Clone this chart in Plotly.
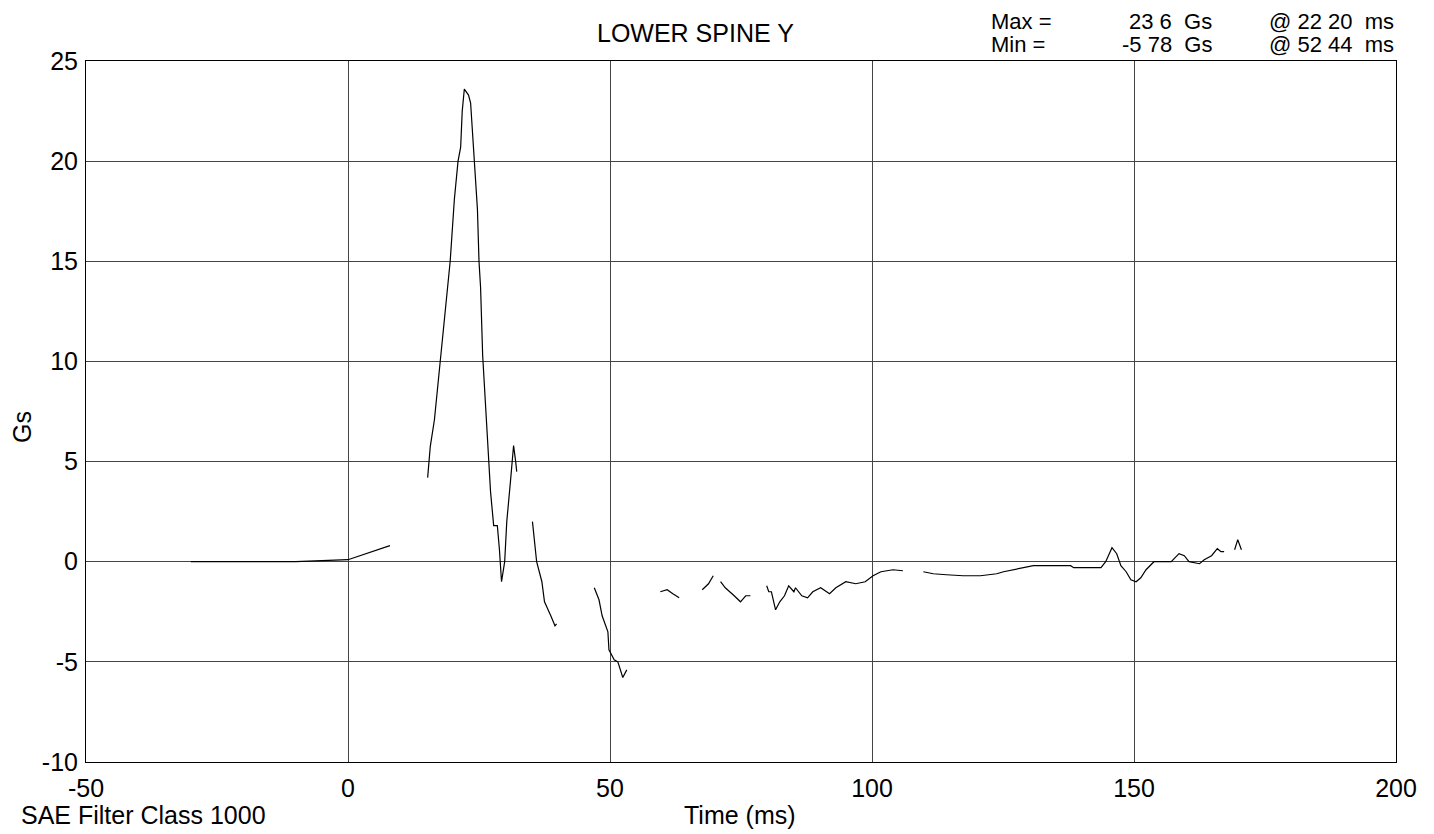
import plotly.graph_objects as go

# ---- data; None marks breaks where the trace is not drawn ----
time_ms = [-30, -20, -10, 0, 3, 6, 8, None,
           15.2, 15.7, 16.5, 19.0, 19.5, 20.3, 21.0, 21.5, 21.8,
           22.2, 23.0, 23.4, 24.1, 24.7, 25.0, 25.3, 25.7, 26.2, 26.8, 27.2, 27.8, 28.5, 28.9,
           29.3, 29.9, 30.3, 31.0, 31.6, 32.0, 32.2, None,
           35.2, 36.0, 37.0, 37.5, 38.7, 39.5, 39.8, None,
           47.0, 47.9, 48.5, 48.9, 49.6, 49.8, 50.2, 50.8, 51.5, 52.44, 53.2, None,
           59.6, 60.9, 62.0, 63.2, None,
           67.6, 68.8, 69.7, None,
           71.1, 72.0, 73.7, 74.9, 75.9, 76.8, None,
           79.9, 80.3, 80.8, 81.6,
           82.4, 83.3, 84.1, 85.1, 85.4, 86.6, 87.7, 88.7, 90.2, 91.9, 93.1, 95.0, 96.9, 98.7,
           100.2, 101.7, 104.0, 105.9, None,
           109.8, 111.7, 114.2, 117.4, 120.7, 123.8, 125.1, 128.3,
           130.8, 134.7, 137.9, 138.5, 143.7, 144.6, 145.8, 146.7, 147.5, 148.5, 149.4, 150.4,
           151.3, 152.3, 153.8, 154.8, 157.1, 158.6, 159.6, 160.5, 162.5, 163.4, 164.8, 165.9,
           166.6, 167.2, None,
           169.2, 169.8, 170.5]
accel_gs = [0.0, 0.0, 0.0, 0.1, 0.35, 0.6, 0.8, None,
            4.2, 5.75, 7.1, 13.7, 15.0, 18.1, 20.0, 20.7, 22.5,
            23.6, 23.3, 22.9, 20.1, 17.6, 15.0, 13.7, 10.3, 8.1, 5.0, 3.5, 1.8, 1.8, 0.6,
            -1.0, 0.0, 2.0, 4.0, 5.8, 5.0, 4.5, None,
            2.0, 0.0, -1.0, -2.0, -2.7, -3.2, -3.1, None,
            -1.3, -1.9, -2.7, -3.0, -3.5, -4.4, -4.6, -4.9, -5.0, -5.78, -5.4, None,
            -1.5, -1.4, -1.6, -1.8, None,
            -1.4, -1.1, -0.7, None,
            -1.0, -1.3, -1.7, -2.0, -1.7, -1.7, None,
            -1.2, -1.5, -1.5, -2.4,
            -2.0, -1.7, -1.2, -1.5, -1.3, -1.7, -1.8, -1.5, -1.3, -1.6, -1.3, -1.0, -1.1, -1.0,
            -0.7, -0.5, -0.4, -0.45, None,
            -0.5, -0.6, -0.65, -0.7, -0.7, -0.6, -0.5, -0.35,
            -0.2, -0.2, -0.2, -0.3, -0.3, 0.0, 0.7, 0.4, -0.2, -0.5, -0.9, -1.0,
            -0.8, -0.4, 0.0, 0.0, 0.0, 0.4, 0.3, 0.0, -0.1, 0.1, 0.3, 0.65,
            0.5, 0.5, None,
            0.6, 1.1, 0.6]

x_ticks = [-50, 0, 50, 100, 150, 200]
y_ticks = [-10, -5, 0, 5, 10, 15, 20, 25]

title_text = "LOWER SPINE Y"
max_label, max_value, max_time = "Max =", "23 6  Gs", "@ 22 20  ms"
min_label, min_value, min_time = "Min =", "-5 78  Gs", "@ 52 44  ms"
footer_text = "SAE Filter Class 1000"

FONT = "Liberation Sans, Arial, sans-serif"
PAGE_OFF = 8                      # default body margin of the html page
W, H = 1434 - PAGE_OFF, 834 - PAGE_OFF
PL, PR, PT, PB = 86, 1396, 61, 762   # wanted plot box in page pixels
L, T = PL - PAGE_OFF, PT - PAGE_OFF
R, B = W - (PR - PAGE_OFF), H - (PB - PAGE_OFF)
PW, PH = PR - PL, PB - PT


def px(xp):
    return (xp - PL) / PW


def py(yp):
    return (PB - yp) / PH


fig = go.Figure()
fig.add_trace(go.Scatter(x=time_ms, y=accel_gs, mode="lines", connectgaps=False,
                         line=dict(color="black", width=1.2), showlegend=False,
                         hoverinfo="x+y"))

ann = []
ann.append(dict(x=px(695), y=py(33), text=title_text, size=25))
# first stats row is pinned to the top edge of the figure so it is not clipped
top_y = py(PAGE_OFF)
ann.append(dict(x=px(990), y=top_y, text=max_label, xanchor="left", yanchor="top", size=22))
ann.append(dict(x=px(1213), y=top_y, text=max_value, xanchor="right", yanchor="top", size=22))
ann.append(dict(x=px(1395), y=top_y, text=max_time, xanchor="right", yanchor="top", size=22))
ann.append(dict(x=px(990), y=py(45), text=min_label, xanchor="left", size=22))
ann.append(dict(x=px(1213), y=py(45), text=min_value, xanchor="right", size=22))
ann.append(dict(x=px(1395), y=py(45), text=min_time, xanchor="right", size=22))
ann.append(dict(x=px(20), y=py(815), text=footer_text, xanchor="left", size=25))
ann.append(dict(x=px(740), y=py(815), text="Time (ms)", size=25))
ann.append(dict(x=px(22), y=py(427), text="Gs", textangle=-90, size=25))
for a in ann:
    size = a.pop("size")
    a.setdefault("xanchor", "center")
    a.setdefault("yanchor", "middle")
    a.update(xref="paper", yref="paper", showarrow=False, borderpad=0,
             font=dict(family=FONT, size=size, color="black"))

fig.update_layout(
    width=W, height=H,
    margin=dict(l=L, r=R, t=T, b=B, pad=0),
    paper_bgcolor="white", plot_bgcolor="white",
    font=dict(family=FONT, size=25, color="black"),
    annotations=ann,
    xaxis=dict(range=[-50, 200], tickvals=x_ticks, ticktext=[str(v) for v in x_ticks],
               showgrid=True, gridcolor="#444444", gridwidth=1, zeroline=False,
               showline=True, linecolor="black", linewidth=1, mirror=True,
               ticks="", ticklabelstandoff=4,
               tickfont=dict(family=FONT, size=25, color="black")),
    yaxis=dict(range=[-10, 25], tickvals=y_ticks, ticktext=[str(v) for v in y_ticks],
               showgrid=True, gridcolor="#444444", gridwidth=1, zeroline=False,
               showline=True, linecolor="black", linewidth=1, mirror=True,
               ticks="", ticklabelstandoff=2,
               tickfont=dict(family=FONT, size=25, color="black")),
)

fig.write_html("out.html")
